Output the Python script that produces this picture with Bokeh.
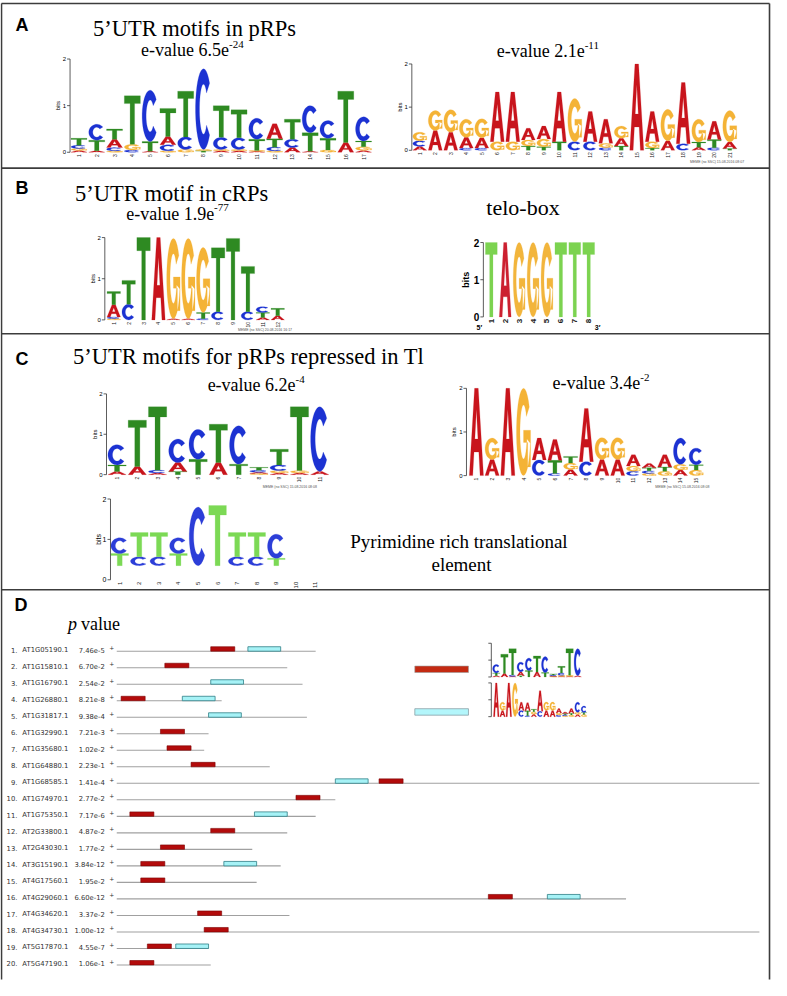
import numpy as np
from bokeh.plotting import figure
from bokeh.models import Range1d, ColumnDataSource
from bokeh.embed import file_html
from bokeh.resources import INLINE
from bokeh.core.properties import value

# ---------------- data: sequence logos (bottom -> top, bits) ----------------
logo_a1 = [
    [("A", .04), ("G", .04), ("C", .07), ("T", .15)],
    [("A", .03), ("T", .23), ("C", .34)],
    [("G", .03), ("C", .07), ("A", .18), ("T", .22)],
    [("C", .05), ("G", .12), ("T", 1.04)],
    [("A", .02), ("T", .21), ("C", 1.10)],
    [("G", .03), ("C", .13), ("A", .18), ("T", .60)],
    [("G", .06), ("C", .27), ("T", .98)],
    [("T", .03), ("G", .03), ("C", 1.73)],
    [("A", .03), ("G", .03), ("C", .26), ("T", .68)],
    [("A", .03), ("G", .03), ("C", .25), ("T", .60)],
    [("A", .02), ("G", .02), ("T", .24), ("C", .45)],
    [("G", .03), ("C", .08), ("T", .18), ("A", .32)],
    [("A", .10), ("C", .18), ("T", .43)],
    [("A", .02), ("T", .40), ("C", .58)],
    [("G", .05), ("T", .25), ("C", .38)],
    [("A", .21), ("T", 1.10)],
    [("A", .04), ("G", .08), ("T", .12), ("C", .52)],
]
logo_a2 = [
    [("A", .09), ("C", .13), ("G", .20)],
    [("A", .46), ("G", .46)],
    [("A", .42), ("G", .52)],
    [("C", .05), ("A", .25), ("G", .42)],
    [("C", .05), ("A", .24), ("G", .44)],
    [("G", .20), ("A", 1.15)],
    [("G", .20), ("A", 1.15)],
    [("T", .10), ("G", .14), ("A", .27)],
    [("T", .08), ("G", .18), ("A", .30)],
    [("T", .20), ("A", 1.15)],
    [("C", .20), ("G", 1.00)],
    [("C", .20), ("A", .70)],
    [("C", .06), ("G", .10), ("A", .56)],
    [("T", .10), ("A", .18), ("G", .28)],
    [("A", 2.00)],
    [("T", .05), ("G", .15), ("A", .70)],
    [("A", .22), ("G", .73)],
    [("C", .15), ("A", 1.42)],
    [("A", .07), ("T", .12), ("G", .53)],
    [("C", .06), ("T", .19), ("A", .42)],
    [("T", .04), ("A", .15), ("G", .73)],
]
logo_b1 = [
    [("G", .03), ("C", .04), ("A", .30), ("T", .32)],
    [("C", .38), ("T", .58)],
    [("T", 2.00)],
    [("A", 2.00)],
    [("A", .03), ("G", 1.95)],
    [("A", .03), ("G", 1.95)],
    [("C", .03), ("T", .15), ("G", 1.58)],
    [("C", .20), ("T", 1.55)],
    [("T", 1.98)],
    [("C", .20), ("T", 1.10)],
    [("A", .06), ("T", .12), ("C", .14)],
    [("A", .10), ("T", .18)],
]
logo_telo = [[("T", 2.0)], [("A", 2.0)], [("G", 2.0)], [("G", 2.0)], [("G", 2.0)],
             [("T", 2.0)], [("T", 2.0)], [("T", 2.0)]]
logo_c1 = [
    [("A", .08), ("T", .16), ("C", .50)],
    [("A", .20), ("T", 1.15)],
    [("A", .04), ("C", .07), ("T", 1.57)],
    [("T", .08), ("A", .22), ("C", .58)],
    [("T", .38), ("C", .74)],
    [("A", .30), ("T", .95)],
    [("T", .26), ("C", .95)],
    [("G", .03), ("A", .03), ("C", .05), ("T", .07)],
    [("A", .04), ("G", .06), ("C", .14), ("T", .39)],
    [("A", .04), ("G", .06), ("T", 1.58)],
    [("A", .08), ("C", 1.60)],
]
logo_c2 = [
    [("A", 2.00)],
    [("A", .37), ("G", .49)],
    [("A", 2.00)],
    [("G", 2.00)],
    [("C", .36), ("A", .50)],
    [("C", .05), ("T", .30), ("A", .48)],
    [("A", .14), ("G", .15), ("T", .15)],
    [("C", .32), ("A", 1.22)],
    [("A", .37), ("G", .50)],
    [("A", .37), ("G", .50)],
    [("C", .10), ("G", .12), ("A", .26)],
    [("G", .05), ("C", .06), ("T", .07), ("A", .10)],
    [("G", .10), ("T", .10), ("A", .28)],
    [("A", .13), ("G", .13), ("C", .60)],
    [("G", .13), ("T", .12), ("C", .38)],
]
logo_pyr = [
    [("T", .30), ("C", .39)],
    [("C", .22), ("T", .60)],
    [("C", .22), ("T", .60)],
    [("T", .30), ("C", .39)],
    [("C", 1.45)],
    [("T", 1.49)],
    [("C", .22), ("T", .60)],
    [("C", .22), ("T", .60)],
    [("T", .18), ("C", .60)],
]
pyr_base_bits = 0.35
pyr_positions = 11

# ---------------- data: panel D ----------------
gene_ids = ["AT1G05190.1", "AT1G15810.1", "AT1G16790.1", "AT1G26880.1", "AT1G31817.1",
            "AT1G32990.1", "AT1G35680.1", "AT1G64880.1", "AT1G68585.1", "AT1G74970.1",
            "AT1G75350.1", "AT2G33800.1", "AT2G43030.1", "AT3G15190.1", "AT4G17560.1",
            "AT4G29060.1", "AT4G34620.1", "AT4G34730.1", "AT5G17870.1", "AT5G47190.1"]
p_values = ["7.46e-5", "6.70e-2", "2.54e-2", "8.21e-8", "9.38e-4", "7.21e-3", "1.02e-2",
            "2.23e-1", "1.41e-4", "2.77e-2", "7.17e-6", "4.87e-2", "1.77e-2", "3.84e-12",
            "1.95e-2", "6.60e-12", "3.37e-2", "1.00e-12", "4.55e-7", "1.06e-1"]
seq_len = [91, 78, 85, 48, 87, 42, 40, 70, 294, 100, 91, 78, 62, 75, 64, 233, 79, 294, 42, 43]
motif1_start = [43, 22, None, 2, None, 20, 23, 34, 120, 82, 6, 43, 20, 11, 11, 170, 37, 40, 14, 6]
motif2_start = [60, None, 43, 30, 42, None, None, None, 100, None, 63, None, None, 49, None, 197,
                None, None, 27, None]
motif1_len = 11
motif2_len = 15

# ---------------- figure (reference-pixel canvas) ----------------
XL, XR = 6.0, 782.0
H = 996.0
def fy(r):
    return H - r
YB, YT = fy(992.0), fy(4.0)

p = figure(width=771, height=980, x_range=Range1d(XL, XR), y_range=Range1d(YB, YT),
           x_axis_type=None, y_axis_type=None, output_backend="svg",
           toolbar_location=None, min_border=0)
p.outline_line_color = None
p.background_fill_color = "white"

SERIF = value("Liberation Serif")
SANS = value("Liberation Sans")
DEJA = value("DejaVu Sans")


def txt(x, y, s, size, font=SERIF, align="left", style="normal", color="black",
        baseline="middle", angle=0.0, xn=None, yn=None, xo=0, yo=0):
    kw = {}
    if xn:
        kw["x_range_name"] = xn
    if yn:
        kw["y_range_name"] = yn
    xs = x if isinstance(x, list) else [x]
    ys = y if isinstance(y, list) else [y]
    ss = s if isinstance(s, list) else [s]
    p.text(x=xs, y=ys, text=ss, text_font=font, text_font_size=size,
           text_align=align, text_baseline=baseline, text_font_style=style,
           text_color=color, angle=angle, x_offset=xo, y_offset=yo, **kw)


def ring_arc(a0, a1, ro=(0.5, 0.5), ri=(0.25, 0.31), n=30):
    t = np.radians(np.linspace(a0, a1, n))
    ux = list(0.5 + ro[0] * np.cos(t)) + list(0.5 + ri[0] * np.cos(t[::-1]))
    uy = list(0.5 + ro[1] * np.sin(t)) + list(0.5 + ri[1] * np.sin(t[::-1]))
    return ux, uy

SHAPES = {
    "T": [[([0, 1, 1, .64, .64, .36, .36, 0], [1, 1, .84, .84, 0, 0, .84, .84])]],
    "A": [[([0, .37, .63, 1, .76, .67, .33, .24], [0, 1, 1, 0, 0, .27, .27, 0]),
           ([.39, .61, .5], [.42, .42, .76])]],
    "C": [[ring_arc(40, 320)]],
    "G": [[ring_arc(35, 345)], [([.5, 1, 1, .8, .8, .5], [.52, .52, .1, .1, .38, .38])]],
}

MEME = {"A": "#c8141c", "C": "#1c32d2", "G": "#f4b336", "T": "#2e8a22"}
TELO = {"A": "#cc2030", "C": "#2c3ed8", "G": "#f2b53c", "T": "#7cd350"}
PYR = {"A": "#cc2030", "C": "#2c3ed8", "G": "#f2b53c", "T": "#7cd955"}


def draw_logo(name, cols, x0, dx, base, ppb, palette, axis_x, width=0.9, offset=0.0,
              nlabels=None, tick_fs="6px", xlab_fs="5px", bits_fs="6px", bits_style="normal",
              labels=True):
    p.extra_x_ranges[name] = Range1d(1 + (XL - x0) / dx, 1 + (XR - x0) / dx)
    yb = fy(base)
    p.extra_y_ranges[name] = Range1d((YB - yb) / ppb, (YT - yb) / ppb)
    xs, ys, colors = [], [], []
    for i, stack in enumerate(cols):
        c = i + 1
        b = offset
        for letter, h in stack:
            px_, py_ = [], []
            for poly in SHAPES[letter]:
                rx, ry = [], []
                for (us, vs) in poly:
                    rx.append([c - width / 2 + u * width for u in us])
                    ry.append([b + v * h for v in vs])
                px_.append(rx)
                py_.append(ry)
            xs.append(px_)
            ys.append(py_)
            colors.append(palette[letter])
            b += h
    src = ColumnDataSource(dict(xs=xs, ys=ys, color=colors))
    p.multi_polygons("xs", "ys", source=src, fill_color="color", line_color="color",
                     line_width=0.2, x_range_name=name, y_range_name=name)
    ac = 1 + (axis_x - x0) / dx
    tl = 3.0 / dx
    p.segment(x0=[ac], y0=[0], x1=[ac], y1=[2], line_color="#333333", line_width=0.8,
              x_range_name=name, y_range_name=name)
    p.segment(x0=[ac - tl] * 3, y0=[0, 1, 2], x1=[ac] * 3, y1=[0, 1, 2], line_color="#333333",
              line_width=0.8, x_range_name=name, y_range_name=name)
    if labels:
        txt([ac - tl] * 3, [0, 1, 2], ["0", "1", "2"], tick_fs, font=SANS, align="right",
            xn=name, yn=name, xo=-1, style=bits_style)
        txt(ac - tl, 1, "bits", bits_fs, font=SANS, align="center", angle=np.pi / 2,
            xn=name, yn=name, xo=-9 if bits_style == "normal" else -14, style=bits_style)
        n = nlabels or len(cols)
        txt(list(range(1, n + 1)), [0] * n, [str(k) for k in range(1, n + 1)], xlab_fs,
            font=SANS, align="right", angle=np.pi / 2, xn=name, yn=name, yo=2,
            style=bits_style, color="#222222")


# ---------------- panel frames ----------------
bc = "#3c3c3c"
p.segment(x0=[7, 7, 780, 7, 7, 7], y0=[fy(7), fy(7), fy(7), fy(173), fy(340), fy(598)],
          x1=[780, 7, 780, 780, 780, 780], y1=[fy(7), fy(991), fy(991), fy(173), fy(340), fy(598)],
          line_color=bc, line_width=1.6)

# ---------------- panel A ----------------
txt(21, fy(29), "A", "18px", font=SANS, style="bold")
txt(99, fy(32), "5\u2019UTR motifs in pRPs", "22.5px")
txt(236, fy(54), "e-value 6.5e", "18px", align="right")
txt(236, fy(48), "-24", "11px")
draw_logo("a1", logo_a1, 85, 17.9, 157, 47, MEME, 76)

txt(594, fy(55), "e-value 2.1e", "18px", align="right")
txt(594, fy(49), "-11", "11px")
draw_logo("a2", logo_a2, 428, 15.6, 155, 43.5, MEME, 420)
txt(700, fy(167), "MEME (no SSC) 15.08.2016 08:07", "3.5px", font=SANS, color="#555555")

# ---------------- panel B ----------------
txt(21, fy(193), "B", "18px", font=SANS, style="bold")
txt(81, fy(199), "5\u2019UTR motif in cRPs", "22.5px")
txt(221, fy(219), "e-value 1.9e", "18px", align="right")
txt(221, fy(213), "-77", "11px")
draw_logo("b1", logo_b1, 120, 15, 326, 41.5, MEME, 111)
txt(245, fy(336), "MEME (no SSC) 20.08.2016 16:17", "3.5px", font=SANS, color="#555555")

txt(495, fy(213), "telo-box", "22px")
draw_logo("telo", logo_telo, 500, 14, 323, 37.5, TELO, 492, width=0.85, tick_fs="10px",
          xlab_fs="8px", bits_fs="9px", bits_style="bold")
txt(488, fy(334), "5\u2032", "7px", font=SANS, style="bold", align="center")
txt(607, fy(334), "3\u2032", "7px", font=SANS, style="bold", align="center")

# ---------------- panel C ----------------
txt(21, fy(365), "C", "18px", font=SANS, style="bold")
txt(79, fy(363), "5\u2019UTR motifs for pRPs repressed in Tl", "22.5px")
txt(303, fy(392), "e-value 6.2e", "18px", align="right")
txt(303, fy(386), "-4", "11px")
draw_logo("c1", logo_c1, 123.3, 20.4, 482, 40.7, MEME, 112.7)
txt(270, fy(494), "MEME (no SSC) 15.08.2016 08:08", "3.5px", font=SANS, color="#555555")

txt(650, fy(390), "e-value 3.4e", "18px", align="right")
txt(650, fy(384), "-2", "11px")
draw_logo("c2", logo_c2, 485, 15.8, 483, 44, MEME, 475)
txt(665, fy(494), "MEME (no SSC) 15.08.2016 08:08", "3.5px", font=SANS, color="#555555")

draw_logo("pyr", logo_pyr, 126, 19.7, 588, 40.7, PYR, 116.7, offset=pyr_base_bits,
          nlabels=pyr_positions, tick_fs="7px", xlab_fs="6px", bits_fs="7px")
txt(358, fy(549), "Pyrimidine rich translational", "19px")
txt(470, fy(573), "element", "19px", align="center")

# ---------------- panel D ----------------
txt(20, fy(613), "D", "18px", font=SANS, style="bold")
txt(74, fy(633), "p", "18px", style="italic")
txt(87, fy(633), "value", "18px")

BP_X0, BP_PX = 123.0, 2.2
p.extra_x_ranges["bp"] = Range1d((XL - BP_X0) / BP_PX, (XR - BP_X0) / BP_PX)
row_y = [659 + i * 16.65 for i in range(len(gene_ids))]
n = len(gene_ids)
txt([23] * n, [fy(y) for y in row_y], [f"{i + 1}." for i in range(n)], "6.8px", font=DEJA,
    align="right", color="#333333")
txt([28] * n, [fy(y) for y in row_y], gene_ids, "6.8px", font=DEJA, color="#333333")
txt([111] * n, [fy(y) for y in row_y], p_values, "6.8px", font=DEJA, align="right",
    color="#333333")
txt([118] * n, [fy(y - 3) for y in row_y], ["+"] * n, "6px", font=DEJA, align="center",
    color="#333333")
p.segment(x0=[0] * n, y0=[fy(y + 1) for y in row_y], x1=seq_len, y1=[fy(y + 1) for y in row_y],
          x_range_name="bp", line_color="#a0a0a0", line_width=1.1)

red_l = [s for s in motif1_start if s is not None]
red_y = [row_y[i] for i, s in enumerate(motif1_start) if s is not None]
p.quad(left=red_l, right=[s + motif1_len for s in red_l], bottom=[fy(y + 1) for y in red_y],
       top=[fy(y - 3.5) for y in red_y], x_range_name="bp", fill_color="#b30b0b",
       line_color="#7a0000", line_width=0.6)
cy_l = [s for s in motif2_start if s is not None]
cy_y = [row_y[i] for i, s in enumerate(motif2_start) if s is not None]
p.quad(left=cy_l, right=[s + motif2_len for s in cy_l], bottom=[fy(y + 1) for y in cy_y],
       top=[fy(y - 3.5) for y in cy_y], x_range_name="bp", fill_color="#a6f2f6",
       line_color="#2f7f86", line_width=0.8)

# legend of panel D
p.quad(left=[423], right=[477], bottom=[fy(681.5)], top=[fy(675)], fill_color="#c42a12",
       line_color="#9a9a9a", line_width=0.6)
p.quad(left=[423], right=[477], bottom=[fy(724.5)], top=[fy(718)], fill_color="#b3f6fb",
       line_color="#8aa0a6", line_width=0.8)
draw_logo("m1", logo_c1, 505, 8.2, 686, 17, MEME, 500, labels=False)
draw_logo("m2", logo_c2, 505, 6.3, 726, 17, MEME, 500, labels=False)

open("out.html", "w").write(file_html(p, INLINE))
